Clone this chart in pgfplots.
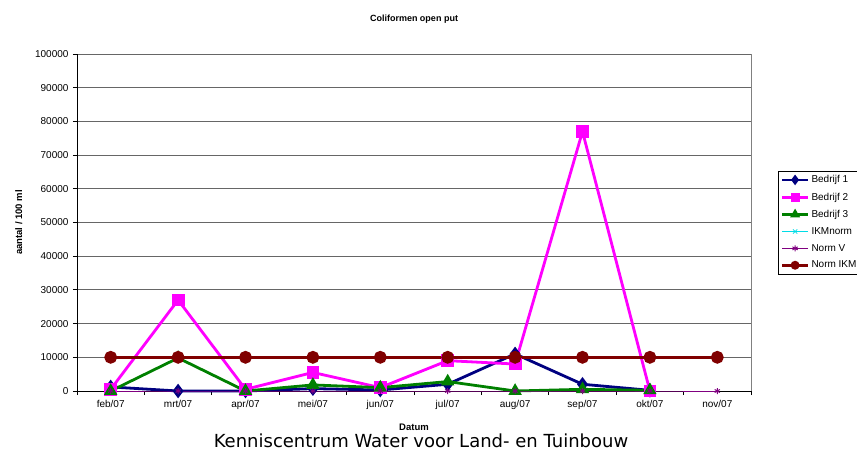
\documentclass[border=0pt]{standalone}
\usepackage{fontspec}
\setmainfont{Liberation Sans}
\newfontfamily\footfont{DejaVu Sans}
\usepackage{pgfplots}
\pgfplotsset{compat=1.18}
\definecolor{b1}{RGB}{0,0,128}
\definecolor{b2}{RGB}{255,0,255}
\definecolor{b3}{RGB}{0,128,0}
\definecolor{ikm}{RGB}{0,220,230}
\definecolor{nv}{RGB}{128,0,128}
\definecolor{nikm}{RGB}{128,0,0}
\begin{document}
\begin{tikzpicture}
\useasboundingbox (0pt,0pt) rectangle (857pt,453pt);
\begin{axis}[
  at={(77pt,62pt)}, anchor=south west,
  scale only axis, width=674pt, height=337pt,
  xmin=-0.5, xmax=9.5, ymin=0, ymax=100000,
  axis lines=left, axis line style={-, black, thick},
  xtick={0,...,9},
  xticklabels={feb/07,mrt/07,apr/07,mei/07,jun/07,jul/07,aug/07,sep/07,okt/07,nov/07},
  minor xtick={-0.5,0.5,...,9.5},
  major x tick style={draw=none},
  minor tick length=4pt,
  ytick={0,10000,...,100000},
  tick align=outside, major tick length=4pt,
  ymajorgrids, grid style={gray!80!black, line width=0.8pt},
  tick style={black, thick},
  scaled y ticks=false,
  yticklabel={\pgfmathprintnumber[fixed,1000 sep={},assume math mode=true]{\tick}},
  tick label style={font=\fontsize{10}{11}\selectfont},
  yticklabel style={xshift=-1pt},
  xticklabel style={yshift=-2pt},
  title={\bfseries Coliformen open put},
  title style={font=\fontsize{9}{10}\selectfont, at={(0.5,1)}, yshift=21pt},
  xlabel={\bfseries Datum}, ylabel={\bfseries aantal / 100 ml},
  label style={font=\fontsize{9.5}{11}\selectfont},
  xlabel style={yshift=-7pt},
  ylabel style={yshift=6pt},
  legend style={at={(1,0.5)}, xshift=27pt, anchor=west, draw=black, font=\fontsize{10}{12}\selectfont,
    row sep=4.5pt, inner sep=2.5pt},
  legend cell align=left,
  legend image code/.code={\draw[mark repeat=2,mark phase=2,#1,mark size=3pt]
    plot coordinates {(0pt,0pt) (13pt,0pt) (26pt,0pt)};},
  after end axis/.code={\draw[gray, line width=1pt] (rel axis cs:1,0) -- (rel axis cs:1,1);},
  clip=false,
]
\addplot[b1, line width=2.8pt, mark=diamond*, mark size=5pt] coordinates {
 (0,1200) (1,0) (2,0) (3,700) (4,300) (5,2000) (6,11000) (7,2000) (8,200)};
\addplot[b2, line width=2.8pt, mark=square*, mark size=5pt] coordinates {
 (0,500) (1,27000) (2,500) (3,5500) (4,1000) (5,9000) (6,8000) (7,77000) (8,0)};
\addplot[b3, line width=2.8pt, mark=triangle*, mark size=5pt] coordinates {
 (0,0) (1,9800) (2,0) (3,1800) (4,1000) (5,2800) (6,0) (7,500) (8,200)};
\addplot[ikm, line width=0.8pt, mark=x, mark size=3pt] coordinates {(0,-100000)};
\addplot[nv, line width=1pt, mark=asterisk, mark size=3pt] coordinates {
 (0,0) (1,0) (2,0) (3,0) (4,0) (5,0) (6,0) (7,0) (8,0) (9,0)};
\addplot[nikm, line width=2.8pt, mark=*, mark size=5pt] coordinates {
 (0,10000) (1,10000) (2,10000) (3,10000) (4,10000) (5,10000) (6,10000) (7,10000) (8,10000) (9,10000)};
\legend{Bedrijf 1,Bedrijf 2,Bedrijf 3,IKMnorm,Norm V,Norm IKM}
\end{axis}
\node at (421pt,12pt) {\footfont\fontsize{18}{21}\selectfont Kenniscentrum Water voor Land- en Tuinbouw};
\end{tikzpicture}
\end{document}
